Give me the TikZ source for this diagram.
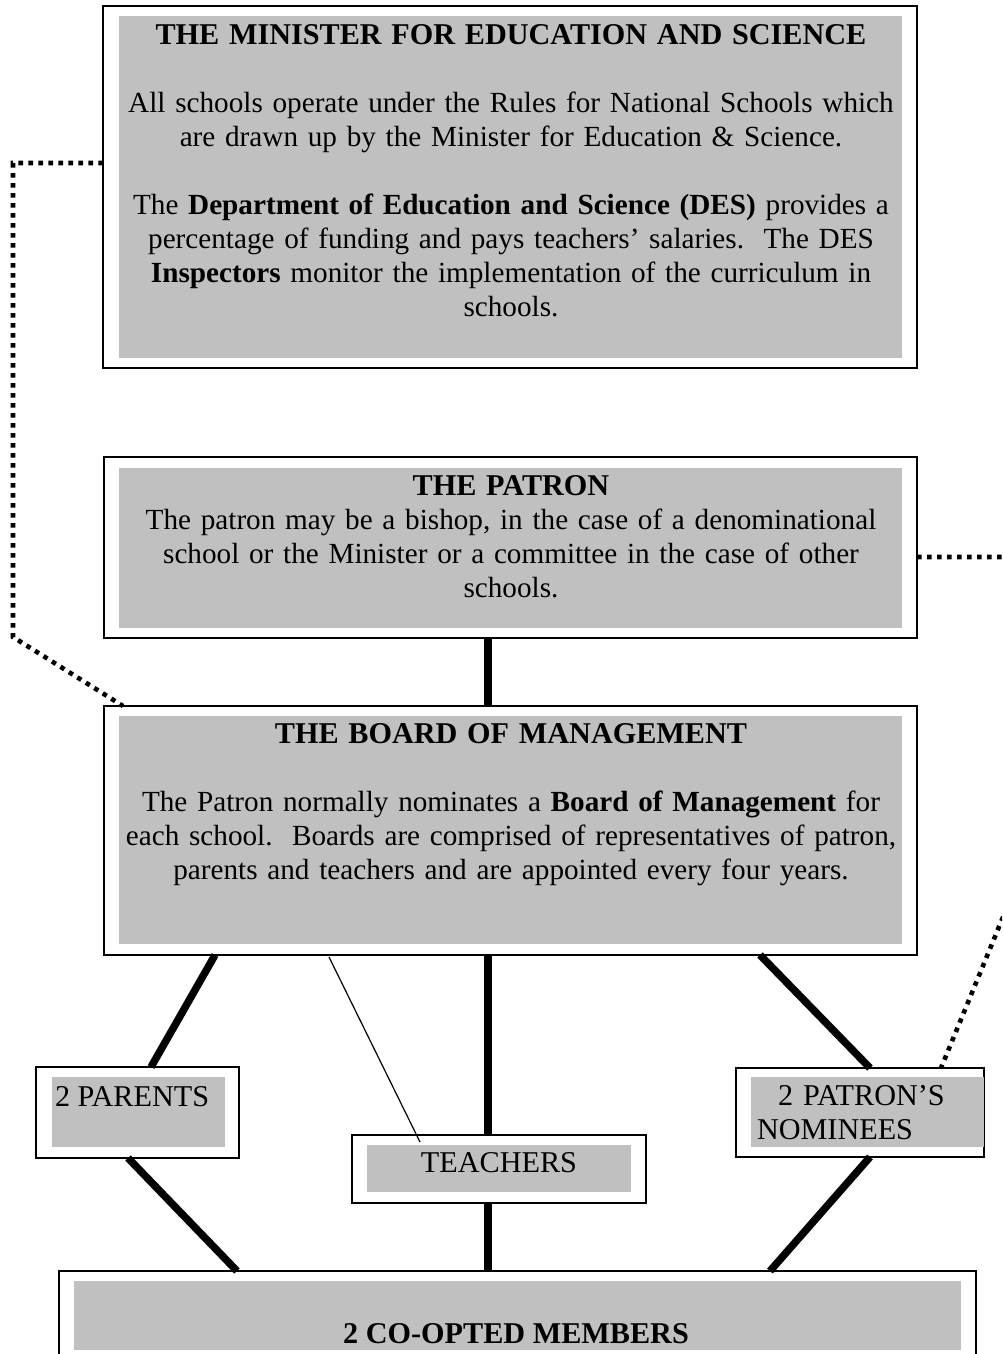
\documentclass[tikz,border=0pt]{standalone}
\usepackage{fontspec}
\setmainfont{Liberation Serif}
\definecolor{boxgrey}{RGB}{192,192,192}
\newcommand{\boxtitle}[1]{{\fontsize{15.1}{17}\selectfont\textbf{#1}}}
\begin{document}
\begin{tikzpicture}
		[x=0.5pt, y=-0.5pt,
		every node/.style={inner sep=0pt, outer sep=0pt},
		boxframe/.style={draw, line width=1pt, fill=white},
		boxfill/.style={fill=boxgrey},
		boxtext/.style={font=\fontsize{14.6}{17}\selectfont, text width=430pt, align=center},
		smalltext/.style={font=\fontsize{15.1}{17}\selectfont},
		thickbar/.style={line width=3.75pt},
		thinbar/.style={line width=0.6pt},
		dottedlink/.style={line width=2.3pt, dash pattern=on 2.3pt off 2.7pt}]
		\useasboundingbox (0,0) rectangle (1002,1354);
		\clip (0,0) rectangle (1002,1354);
		\coordinate (spine) at (488,0);
		
		\node[boxframe, minimum width=407pt, minimum height=181pt] (ministerbox) at (510,187) {};
		\node[boxfill, minimum width=391.5pt, minimum height=171pt] (ministerfill) at (510.5,187) {};
		\node[boxtext, anchor=base] (minister) at (511,45) {\boxtitle{THE MINISTER FOR EDUCATION AND SCIENCE}\\[17pt]
			All schools operate under the Rules for National Schools which\\
			are drawn up by the Minister for Education \& Science.\\[17pt]
			The \textbf{Department of Education and Science (DES)} provides a\\
			percentage of funding and pays teachers' salaries.\ \ The DES\\
			\textbf{Inspectors} monitor the implementation of the curriculum in\\
			schools.};
		
		\node[boxframe, minimum width=406.5pt, minimum height=90.5pt] (patronbox) at (510.5,547.5) {};
		\node[boxfill, minimum width=391.5pt, minimum height=80pt] (patronfill) at (510.5,548) {};
		\node[boxtext, anchor=base] (patron) at (511,495) {\boxtitle{THE PATRON}\\
			The patron may be a bishop, in the case of a denominational\\
			school or the Minister or a committee in the case of other\\
			schools.};
		
		\node[boxframe, minimum width=406.5pt, minimum height=124.5pt] (boardbox) at (510.5,830.5) {};
		\node[boxfill, minimum width=391.5pt, minimum height=114pt] (boardfill) at (510.5,830) {};
		\node[boxtext, anchor=base] (board) at (511,743) {\boxtitle{THE BOARD OF MANAGEMENT}\\[17pt]
			The Patron normally nominates a \textbf{Board of Management} for\\
			each school.\ \ Boards are comprised of representatives of patron,\\
			parents and teachers and are appointed every four years.};
		
		\node[boxframe, minimum width=101.5pt, minimum height=45.5pt] (parentsbox) at (137.5,1112.5) {};
		\node[boxfill, minimum width=86.5pt, minimum height=35pt] (parentsfill) at (138.5,1112) {};
		\node[smalltext, anchor=base west] (parents) at (55,1106) {2 PARENTS};
		
		\node[boxframe, minimum width=147pt, minimum height=34pt] (teachersbox) at (499,1169) {};
		\node[boxfill, minimum width=132pt, minimum height=23.5pt] (teachersfill) at (499,1168.5) {};
		\node[smalltext, anchor=base] (teachers) at (499,1172) {TEACHERS};
		
		\node[boxframe, minimum width=124pt, minimum height=44.5pt] (nomineesbox) at (860,1112.5) {};
		\node[boxfill, minimum width=116.5pt, minimum height=35pt] (nomineesfill) at (867.5,1112) {};
		\node[smalltext, text width=115pt, align=left, anchor=base west] (nominees) at (757,1105) {\hspace*{10.5pt}2 PATRON'S\\NOMINEES};
		
		\node[boxframe, minimum width=458.5pt, minimum height=74.5pt] (coopbox) at (517.5,1345.5) {};
		\node[boxfill, minimum width=443.5pt, minimum height=34.5pt] (coopfill) at (517.5,1315.5) {};
		\node[smalltext, anchor=base] (coop) at (516,1343) {\textbf{2 CO-OPTED MEMBERS}};
		
		\draw[thickbar] (spine |- patronbox.south) -- (spine |- boardbox.north);
		\draw[thickbar] (spine |- boardbox.south) -- (spine |- teachersbox.north);
		\draw[thickbar] (spine |- teachersbox.south) -- (spine |- coopbox.north);
		\draw[thickbar] ([xshift=-147.75pt]boardbox.south) -- ([xshift=6.75pt]parentsbox.north);
		\draw[thickbar] ([xshift=-4.75pt]parentsbox.south) -- ([xshift=-140.25pt]coopbox.north);
		\draw[thickbar] ([xshift=124.75pt]boardbox.south) -- ([xshift=5pt]nomineesbox.north);
		\draw[thickbar] ([xshift=5pt]nomineesbox.south) -- ([xshift=126.25pt]coopbox.north);
		\draw[thinbar] ([xshift=-90.75pt, yshift=-1pt]boardbox.south) -- ([xshift=-39.5pt, yshift=-3.5pt]teachersbox.north);
		
		\draw[dottedlink] ([yshift=12pt]ministerbox.west) -| (13,637) -- ([xshift=9.5pt]boardbox.north west);
		\draw[dottedlink] ([yshift=-4.75pt]patronbox.east) -| (1040,827) -- ([xshift=40.5pt]nomineesbox.north);
		\end{tikzpicture}
\end{document}
